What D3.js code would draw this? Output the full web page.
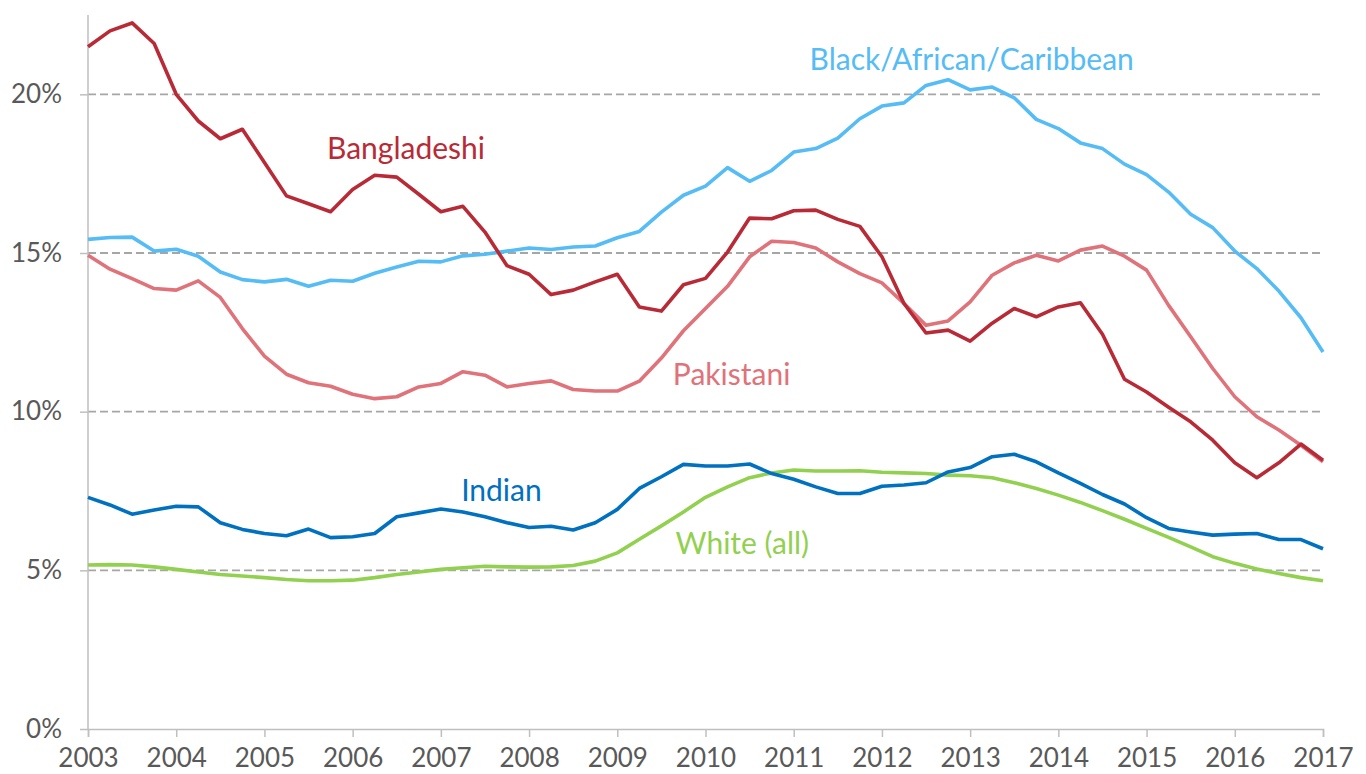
<!DOCTYPE html>
<html>
<head>
<meta charset="utf-8">
<script src="https://cdn.jsdelivr.net/npm/d3@7"></script>
<style>
  body { margin: 0; background: #fff; }
  svg { display: block; font-family: Lato, "Open Sans", sans-serif; }
</style>
</head>
<body>
<svg id="svg" width="1366" height="774"></svg>
<script>
"use strict";

// quarterly points, 2003 Q1 .. 2017 Q1
const startYear = 2003;
const yearTicks = [2003, 2004, 2005, 2006, 2007, 2008, 2009, 2010, 2011, 2012, 2013, 2014, 2015, 2016, 2017];
const pctTicks = [0, 5, 10, 15, 20];

const bangladeshi = [
    21.5, 22.0, 22.25, 21.6, 20.0, 19.16, 18.6, 18.9, 17.85, 16.8, 16.55, 16.3,
    17.0, 17.45, 17.39, 16.85, 16.3, 16.47, 15.66, 14.6, 14.33, 13.69, 13.83, 14.09,
    14.33, 13.3, 13.17, 14.0, 14.2, 15.03, 16.1, 16.08, 16.33, 16.35, 16.06, 15.84,
    14.88, 13.41, 12.48, 12.57, 12.22, 12.79, 13.25, 12.99, 13.3, 13.43, 12.44, 11.02,
    10.62, 10.14, 9.68, 9.1, 8.39, 7.92, 8.39, 8.98, 8.47];

const blackAfrican = [
    15.43, 15.49, 15.5, 15.06, 15.12, 14.9, 14.4, 14.16, 14.09, 14.17, 13.95, 14.14,
    14.11, 14.36, 14.56, 14.74, 14.72, 14.91, 14.96, 15.06, 15.16, 15.11, 15.19, 15.22,
    15.48, 15.68, 16.29, 16.82, 17.11, 17.69, 17.26, 17.6, 18.18, 18.29, 18.62, 19.23,
    19.63, 19.73, 20.28, 20.46, 20.14, 20.23, 19.89, 19.21, 18.92, 18.47, 18.29, 17.8,
    17.47, 16.92, 16.22, 15.8, 15.06, 14.51, 13.8, 12.96, 11.88];

const pakistani = [
    14.93, 14.49, 14.19, 13.88, 13.83, 14.12, 13.6, 12.62, 11.75, 11.18, 10.91, 10.8,
    10.55, 10.41, 10.47, 10.78, 10.89, 11.26, 11.15, 10.78, 10.89, 10.97, 10.7, 10.65,
    10.65, 10.96, 11.69, 12.55, 13.25, 13.95, 14.88, 15.37, 15.33, 15.16, 14.72, 14.35,
    14.06, 13.41, 12.72, 12.86, 13.46, 14.3, 14.69, 14.93, 14.75, 15.09, 15.22, 14.9,
    14.46, 13.35, 12.36, 11.36, 10.47, 9.84, 9.42, 8.94, 8.42];

const indian = [
    7.3, 7.06, 6.77, 6.9, 7.02, 7.0, 6.5, 6.29, 6.16, 6.09, 6.3, 6.03,
    6.06, 6.16, 6.69, 6.81, 6.93, 6.84, 6.69, 6.5, 6.35, 6.39, 6.27, 6.5,
    6.92, 7.58, 7.95, 8.34, 8.29, 8.29, 8.35, 8.05, 7.87, 7.63, 7.42, 7.42,
    7.65, 7.69, 7.76, 8.1, 8.24, 8.58, 8.66, 8.42, 8.07, 7.74, 7.39, 7.09,
    6.66, 6.32, 6.21, 6.11, 6.14, 6.16, 5.97, 5.97, 5.68];

const white = [
    5.17, 5.18, 5.17, 5.11, 5.03, 4.95, 4.87, 4.82, 4.77, 4.71, 4.67, 4.67,
    4.69, 4.77, 4.87, 4.95, 5.03, 5.08, 5.13, 5.11, 5.1, 5.11, 5.15, 5.29,
    5.55, 5.98, 6.4, 6.84, 7.3, 7.63, 7.92, 8.07, 8.16, 8.13, 8.13, 8.14,
    8.09, 8.07, 8.05, 8.0, 7.98, 7.92, 7.76, 7.58, 7.37, 7.14, 6.88, 6.61,
    6.32, 6.04, 5.74, 5.43, 5.22, 5.04, 4.9, 4.77, 4.67];

const series = [
    { name: "White (all)", values: white, color: "#92d050", lx: 2009.66, ly: 5.5 },
    { name: "Indian", values: indian, color: "#0070c0", lx: 2007.23, ly: 7.2 },
    { name: "Pakistani", values: pakistani, color: "#e0727a", lx: 2009.63, ly: 10.83 },
    { name: "Black/African/Caribbean", values: blackAfrican, color: "#55bcf6", lx: 2011.18, ly: 20.78 },
    { name: "Bangladeshi", values: bangladeshi, color: "#b82a35", lx: 2005.71, ly: 17.95 }
];

const margin = { top: 15, right: 43, bottom: 45, left: 88 };
const width = 1366, height = 774;

var svg = d3.select("svg");

var x = d3.scaleLinear()
    .domain([2003, 2017])
    .range([margin.left, width - margin.right]);

var y = d3.scaleLinear()
    .domain([0, 22.5])
    .range([height - margin.bottom, margin.top]);

// dashed gridlines
svg.append("g")
    .selectAll("line")
    .data(pctTicks.filter(d => d > 0))
    .enter()
    .append("line")
        .attr("x1", x(2003))
        .attr("x2", x(2017))
        .attr("y1", d => y(d))
        .attr("y2", d => y(d))
        .attr("stroke", "#a6a6a6")
        .attr("stroke-width", 1.8)
        .attr("stroke-dasharray", "8,4");

// y axis
var yAxis = svg.append("g")
    .attr("transform", "translate(" + margin.left + ",0)")
    .call(d3.axisLeft(y).tickValues(pctTicks).tickFormat(d => d + "%").tickSize(8).tickPadding(18));

// x axis
var xAxis = svg.append("g")
    .attr("transform", "translate(0," + y(0) + ")")
    .call(d3.axisBottom(x).tickValues(yearTicks).tickFormat(d3.format("d")).tickSize(8).tickPadding(12));

[yAxis, xAxis].forEach(function(a) {
    a.select(".domain").attr("stroke", "#bfbfbf").attr("stroke-width", 1.5);
    a.selectAll(".tick line").attr("stroke", "#bfbfbf").attr("stroke-width", 1.5);
    a.selectAll(".tick text")
        .attr("fill", "#595959")
        .style("font-size", "26px")
        .style("font-family", "Lato, sans-serif");
});
yAxis.select(".domain").attr("d", "M0," + margin.top + "V" + y(0));

var line = d3.line()
    .x((d, i) => x(startYear + i / 4))
    .y(d => y(d));

svg.append("g")
    .selectAll("path")
    .data(series)
    .enter()
    .append("path")
        .attr("d", d => line(d.values))
        .attr("fill", "none")
        .attr("stroke", d => d.color)
        .attr("stroke-width", 3.6)
        .attr("stroke-linejoin", "round");

svg.append("g")
    .selectAll("text")
    .data(series)
    .enter()
    .append("text")
        .attr("x", d => x(d.lx))
        .attr("y", d => y(d.ly))
        .attr("fill", d => d.color)
        .style("font-size", "30px")
        .text(d => d.name);
</script>
</body>
</html>
